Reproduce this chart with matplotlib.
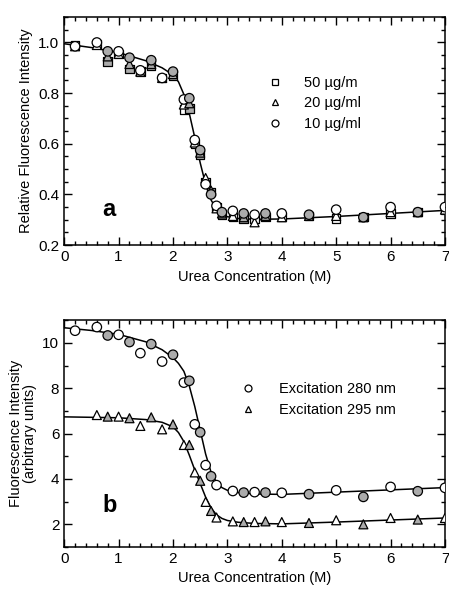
import numpy as np
import matplotlib
matplotlib.use('Agg')
import matplotlib.pyplot as plt
from matplotlib.ticker import MultipleLocator, FormatStrFormatter

plt.rcParams['font.family'] = ['Liberation Sans', 'DejaVu Sans']
plt.rcParams['font.size'] = 10

# ---- panel a data (relative fluorescence vs urea) ----
xa = [0.2, 0.6, 0.8, 1.0, 1.2, 1.4, 1.6, 1.8, 2.0, 2.2, 2.3, 2.4, 2.5, 2.6,
      2.7, 2.8, 2.9, 3.1, 3.3, 3.5, 3.7, 4.0, 4.5, 5.0, 5.5, 6.0, 6.5, 7.0]
a_50 = [0.99, 0.995, 0.925, 0.955, 0.895, 0.885, 0.91, 0.86, 0.87, 0.735, 0.74,
        0.60, 0.555, 0.45, 0.41, 0.35, 0.32, 0.31, 0.305, 0.305, 0.31, 0.31,
        0.315, 0.305, 0.31, 0.325, 0.33, 0.34]
a_20 = [0.985, 0.99, 0.945, 0.955, 0.915, 0.885, 0.915, 0.86, 0.875, 0.755, 0.76,
        0.605, 0.565, 0.465, 0.415, 0.345, 0.325, 0.315, 0.31, 0.29, 0.315, 0.31,
        0.315, 0.315, 0.31, 0.33, 0.33, 0.34]
a_10 = [0.985, 1.0, 0.965, 0.965, 0.94, 0.89, 0.93, 0.86, 0.885, 0.775, 0.78,
        0.615, 0.575, 0.44, 0.40, 0.355, 0.33, 0.335, 0.325, 0.32, 0.325, 0.325,
        0.32, 0.34, 0.31, 0.35, 0.33, 0.35]
a_filled = [0, 0, 1, 0, 1, 0, 1, 0, 1, 0, 1, 0, 1, 0, 1, 0, 1, 0, 1, 0, 1, 0,
            1, 0, 1, 0, 1, 0]
fit_a_x = [0.0, 0.5, 1.0, 1.5, 1.8, 2.0, 2.1, 2.2, 2.3, 2.4, 2.5, 2.6, 2.7,
           2.8, 2.9, 3.0, 3.2, 3.5, 4.0, 5.0, 6.0, 7.0]
fit_a_y = [0.995, 0.980, 0.960, 0.928, 0.900, 0.872, 0.845, 0.795, 0.720, 0.625,
           0.525, 0.440, 0.378, 0.342, 0.322, 0.312, 0.305, 0.302, 0.303, 0.313,
           0.325, 0.337]

# ---- panel b data (fluorescence intensity, two excitations) ----
xb280 = [0.2, 0.6, 0.8, 1.0, 1.2, 1.4, 1.6, 1.8, 2.0, 2.2, 2.3, 2.4, 2.5, 2.6,
         2.7, 2.8, 3.1, 3.3, 3.5, 3.7, 4.0, 4.5, 5.0, 5.5, 6.0, 6.5, 7.0]
b280 = [10.54, 10.70, 10.33, 10.36, 10.04, 9.55, 9.95, 9.18, 9.48, 8.25, 8.33,
        6.41, 6.06, 4.61, 4.12, 3.73, 3.47, 3.40, 3.42, 3.40, 3.39, 3.33, 3.50,
        3.21, 3.65, 3.46, 3.61]
b280_filled = [0, 0, 1, 0, 1, 0, 1, 0, 1, 0, 1, 0, 1, 0, 1, 0, 0, 1, 0, 1, 0,
               1, 0, 1, 0, 1, 0]
xb295 = [0.6, 0.8, 1.0, 1.2, 1.4, 1.6, 1.8, 2.0, 2.2, 2.3, 2.4, 2.5, 2.6, 2.7,
         2.8, 3.1, 3.3, 3.5, 3.7, 4.0, 4.5, 5.0, 5.5, 6.0, 6.5, 7.0]
b295 = [6.82, 6.75, 6.75, 6.68, 6.34, 6.72, 6.19, 6.41, 5.50, 5.50, 4.29, 3.92,
        2.99, 2.59, 2.30, 2.13, 2.10, 2.10, 2.13, 2.10, 2.06, 2.18, 2.00, 2.28,
        2.21, 2.28]
b295_filled = [0, 1, 0, 1, 0, 1, 0, 1, 0, 1, 0, 1, 0, 1, 0, 0, 1, 0, 1, 0, 1,
               0, 1, 0, 1, 0]
fit280_x = [0.0, 0.5, 1.0, 1.5, 1.8, 2.0, 2.1, 2.2, 2.3, 2.4, 2.5, 2.6, 2.7,
            2.8, 2.9, 3.0, 3.2, 3.5, 4.0, 5.0, 6.0, 7.0]
fit280_y = [10.67, 10.55, 10.38, 10.05, 9.70, 9.35, 9.10, 8.75, 8.10, 7.20, 6.15,
            5.10, 4.30, 3.85, 3.62, 3.50, 3.40, 3.34, 3.32, 3.42, 3.52, 3.62]
fit295_x = [0.0, 1.0, 1.5, 1.8, 2.0, 2.1, 2.2, 2.3, 2.4, 2.5, 2.6, 2.7, 2.8,
            2.9, 3.0, 3.2, 3.5, 4.0, 5.0, 6.0, 7.0]
fit295_y = [6.74, 6.70, 6.62, 6.50, 6.30, 6.05, 5.65, 5.05, 4.40, 3.80, 3.20,
            2.72, 2.42, 2.26, 2.17, 2.09, 2.04, 2.02, 2.10, 2.19, 2.28]

GRAY = '#ababab'
MS = 6.8


def faces(flags):
    return [GRAY if f else 'white' for f in flags]


def style_axes(ax):
    ax.xaxis.set_major_locator(MultipleLocator(1))
    ax.xaxis.set_minor_locator(MultipleLocator(0.2))
    ax.tick_params(which='both', direction='in', top=True, right=True,
                   labelsize=11, width=1)
    ax.tick_params(which='major', length=6)
    ax.tick_params(which='minor', length=3)
    for s in ax.spines.values():
        s.set_linewidth(1.1)
    ax.set_xlim(0, 7)
    ax.set_xlabel('Urea Concentration (M)', fontsize=10.5, labelpad=4)


fig = plt.figure(figsize=(4.49, 5.92), dpi=100)
ax1 = fig.add_axes([0.143, 0.586, 0.848, 0.385])
ax2 = fig.add_axes([0.143, 0.076, 0.848, 0.383])

# panel a
ax1.plot(fit_a_x, fit_a_y, color='black', lw=1.1, zorder=1)
ax1.scatter(xa, a_50, marker='s', s=MS**2 * 0.8, facecolors=faces(a_filled),
            edgecolors='black', linewidths=0.9, zorder=2)
ax1.scatter(xa, a_20, marker='^', s=MS**2 * 0.9, facecolors=faces(a_filled),
            edgecolors='black', linewidths=0.9, zorder=3)
ax1.scatter(xa, a_10, marker='o', s=MS**2, facecolors=faces(a_filled),
            edgecolors='black', linewidths=0.9, zorder=4)
h1 = [ax1.plot([], [], ls='none', marker=m, ms=5, mfc='white', mec='black',
               mew=0.9)[0] for m in ['s', '^', 'o']]
ax1.legend(h1, ['50 \u00b5g/m', '20 \u00b5g/ml', '10 \u00b5g/ml'],
           loc='upper left', bbox_to_anchor=(0.50, 0.8), frameon=False,
           fontsize=10.5, handlelength=1.0, handletextpad=1.5, labelspacing=0.45)
ax1.set_ylim(0.2, 1.1)
ax1.yaxis.set_major_locator(MultipleLocator(0.2))
ax1.yaxis.set_minor_locator(MultipleLocator(0.05))
ax1.yaxis.set_major_formatter(FormatStrFormatter('%.1f'))
ax1.set_ylabel('Relative Fluorescence Intensity', fontsize=10.5)
ax1.text(0.83, 0.34, 'a', fontsize=17, fontweight='bold', ha='center', va='center')
style_axes(ax1)

# panel b
ax2.plot(fit280_x, fit280_y, color='black', lw=1.1, zorder=1)
ax2.plot(fit295_x, fit295_y, color='black', lw=1.1, zorder=1)
ax2.scatter(xb280, b280, marker='o', s=MS**2, facecolors=faces(b280_filled),
            edgecolors='black', linewidths=0.9, zorder=3)
ax2.scatter(xb295, b295, marker='^', s=MS**2 * 0.9, facecolors=faces(b295_filled),
            edgecolors='black', linewidths=0.9, zorder=3)
h2 = [ax2.plot([], [], ls='none', marker=m, ms=5, mfc='white', mec='black',
               mew=0.9)[0] for m in ['o', '^']]
ax2.legend(h2, ['Excitation 280 nm', 'Excitation 295 nm'],
           loc='upper left', bbox_to_anchor=(0.43, 0.785), frameon=False,
           fontsize=10.5, handlelength=1.0, handletextpad=1.6, labelspacing=0.45)
ax2.set_ylim(1, 11)
ax2.yaxis.set_major_locator(MultipleLocator(2))
ax2.yaxis.set_minor_locator(MultipleLocator(1))
ax2.set_ylabel('Fluorescence Intensity\n(arbitrary units)', fontsize=10.5,
               linespacing=1.0)
ax2.text(0.83, 2.84, 'b', fontsize=17, fontweight='bold', ha='center', va='center')
style_axes(ax2)

fig.savefig('out.png', dpi=100)
